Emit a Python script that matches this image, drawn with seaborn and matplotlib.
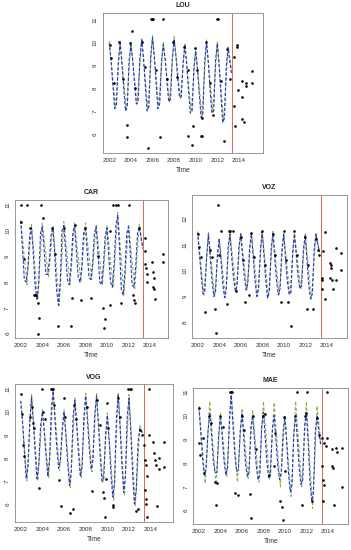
import numpy as np
import pandas as pd
import matplotlib
matplotlib.use("Agg")
import matplotlib.pyplot as plt
import seaborn as sns

sns.set_style("white")
plt.rcParams["font.family"] = ["Liberation Sans", "DejaVu Sans"]

# bimonthly time grid of the fitted curves (Jan, Mar, May, Jul, Sep, Nov)
fit_years = list(range(2002, 2014))
fit_months = [0, 2, 4, 6, 8, 10]
fit_time = [y + m / 12 for y in fit_years for m in fit_months][:69]

# peak / trough times of the second (green) model
green_time = [2002.0, 2002.58, 2003.0, 2003.58, 2004.0, 2004.58, 2005.0, 2005.58,
              2006.0, 2006.58, 2007.0, 2007.58, 2008.0, 2008.58, 2009.0, 2009.58,
              2010.0, 2010.58, 2011.0, 2011.58, 2012.0, 2012.58, 2013.0, 2013.35]

# ---------------- LOU ----------------
lou_fit = [9.95, 9.2, 8.1, 7.1, 7.3, 9.1,
           9.95, 9.1, 8.0, 7.0, 7.2, 9.2,
           9.9, 9.2, 8.2, 7.3, 7.4, 9.3,
           10.1, 9.3, 8.1, 7.0, 7.2, 9.4,
           10.2, 9.4, 8.2, 7.1, 7.3, 9.2,
           9.9, 9.3, 8.3, 7.4, 7.5, 9.3,
           10.1, 9.4, 8.4, 7.6, 7.6, 9.1,
           9.9, 9.0, 7.9, 6.9, 7.0, 8.9,
           9.6, 8.8, 7.7, 6.7, 6.9, 9.2,
           10.0, 9.1, 7.9, 6.9, 7.0, 9.2,
           9.95, 9.0, 7.7, 6.5, 6.7, 9.0,
           9.75, 9.1, 8.6]
lou_green = [10.05, 7.15, 10.1, 7.05, 10.0, 7.3, 10.2, 7.05, 10.3, 7.2, 10.0, 7.4,
             10.25, 7.55, 9.95, 6.95, 9.75, 6.75, 10.1, 6.95, 10.05, 6.55, 9.8, 8.7]
lou_obs_t = [2002.05, 2002.2, 2002.4, 2002.9, 2003.3, 2003.9, 2004.1, 2004.4, 2005.0, 2005.3,
             2005.85, 2005.95, 2006.05, 2006.3, 2007.0, 2007.3, 2007.9, 2008.3, 2008.95, 2009.3,
             2009.9, 2010.1, 2010.95, 2011.3, 2011.95, 2012.05, 2012.3, 2012.9, 2013.2,
             2003.6, 2003.6, 2005.6, 2006.7, 2009.3, 2009.7, 2009.75, 2010.45, 2010.55, 2012.6,
             2010.6, 2011.6,
             2013.5, 2013.55, 2013.65, 2013.8, 2013.85, 2013.94, 2014.3, 2014.33, 2014.33,
             2014.45, 2014.65, 2014.7, 2015.18, 2015.2]
lou_obs_y = [9.9, 9.3, 8.2, 10.0, 8.4, 9.95, 10.5, 8.0, 10.0, 8.9,
             11, 11, 11, 8.8, 11, 8.4, 10.0, 8.5, 9.8, 8.8,
             9.75, 8.8, 10.0, 8.2, 11, 11, 8.3, 9.7, 8.4,
             6.4, 5.85, 5.4, 5.85, 5.9, 5.5, 6.35, 5.9, 5.9, 5.7,
             6.7, 6.8,
             9.37, 7.2, 6.35, 9.8, 9.9, 7.9, 8.3, 7.6, 6.65,
             6.5, 8.2, 8.1, 8.76, 8.2]

# ---------------- CAR ----------------
car_fit = [10.35, 9.3, 8.1, 8.0, 8.6, 9.8,
           10.1, 9.1, 7.9, 7.3, 7.9, 9.9,
           10.15, 9.3, 8.3, 8.3, 8.9, 9.9,
           10.1, 9.0, 7.7, 7.1, 8.0, 10.0,
           10.2, 9.2, 8.1, 7.9, 8.6, 9.9,
           10.2, 9.2, 8.2, 8.0, 8.6, 9.9,
           10.15, 9.2, 8.2, 8.1, 8.7, 9.9,
           10.15, 9.1, 8.0, 7.9, 8.6, 9.8,
           10.1, 9.0, 8.0, 7.8, 8.7, 10.2,
           10.6, 9.3, 7.7, 7.5, 8.4, 9.9,
           10.15, 9.1, 7.9, 7.8, 8.6, 9.9,
           10.15, 9.7, 9.3]
car_green = [10.4, 7.9, 10.25, 7.3, 10.3, 8.2, 10.2, 7.1, 10.35, 7.9, 10.3, 8.0,
             10.3, 8.1, 10.25, 7.9, 10.2, 7.8, 10.7, 7.5, 10.25, 7.75, 10.25, 9.3]
car_obs_t = [2002.0, 2002.55, 2003.85, 2004.05, 2010.55, 2010.85, 2011.0, 2012.05,
             2002.05, 2002.3, 2002.9, 2003.2, 2003.3, 2003.4, 2003.6, 2003.65, 2003.6,
             2004.9, 2005.2, 2005.5, 2006.0, 2006.65, 2006.75, 2007.0, 2007.6, 2008.0,
             2008.55, 2009.2, 2009.6, 2009.75, 2009.85, 2010.3, 2010.3, 2011.3, 2012.4,
             2012.5, 2012.6, 2012.95,
             2013.5, 2013.55, 2013.5, 2013.6, 2013.7, 2013.7, 2014.17, 2014.3, 2014.35,
             2014.3, 2014.4, 2014.5, 2015.2, 2015.2]
car_obs_y = [11, 11, 11, 10.5, 11, 11, 11, 11,
             10.35, 8.9, 10.1, 7.5, 7.5, 7.5, 7.2, 6.6, 6.0,
             10.1, 9.1, 6.3, 10.1, 6.3, 7.4, 10.2, 7.3, 10.1,
             7.4, 9.0, 7.0, 6.2, 6.55, 10.0, 7.1, 7.2, 7.5,
             7.3, 7.2, 10.1,
             9.7, 9.2, 8.7, 8.55, 8.3, 8.0, 8.77, 8.4, 8.15,
             7.8, 7.75, 7.35, 9.1, 8.8]

# ---------------- VOZ ----------------
voz_fit = [11.45, 10.6, 9.8, 9.1, 9.2, 10.5,
           11.4, 10.5, 9.6, 9.0, 9.2, 10.6,
           11.2, 10.4, 9.5, 8.95, 9.3, 10.9,
           11.4, 10.5, 9.7, 9.2, 9.4, 10.9,
           11.4, 10.6, 9.8, 9.25, 9.5, 10.9,
           11.4, 10.5, 9.6, 9.0, 9.3, 10.8,
           11.5, 10.6, 9.6, 8.95, 9.2, 10.8,
           11.45, 10.5, 9.6, 9.05, 9.3, 10.8,
           11.4, 10.5, 9.6, 9.1, 9.1, 10.7,
           11.4, 10.6, 9.8, 9.3, 9.4, 10.8,
           11.35, 10.4, 9.4, 8.9, 9.1, 10.8,
           11.4, 11.0, 10.7]
voz_green = [11.5, 9.05, 11.45, 9.0, 11.25, 8.95, 11.5, 9.2, 11.45, 9.25, 11.45, 9.0,
             11.5, 8.95, 11.5, 9.05, 11.45, 9.05, 11.45, 9.3, 11.4, 8.9, 11.4, 10.7]
voz_obs_t = [2003.9, 2002.7, 2003.6, 2003.7, 2004.7, 2004.2, 2004.9, 2005.05, 2005.3,
             2006.4, 2006.8, 2007.0, 2008.0, 2009.75, 2010.4, 2010.7, 2010.0, 2011.0,
             2012.15, 2012.7,
             2002.0, 2002.15, 2002.3, 2003.1, 2003.3, 2004.0, 2005.6, 2006.0, 2006.2,
             2007.2, 2008.3, 2009.0, 2009.2, 2010.2, 2011.2, 2012.0, 2012.3, 2013.0,
             2013.2, 2013.3,
             2013.55, 2013.6, 2013.58, 2013.7, 2013.85, 2013.8, 2014.35, 2014.4, 2014.35,
             2014.38, 2014.46, 2014.6, 2014.9, 2014.87, 2015.33, 2015.33]
voz_obs_y = [12.5, 8.4, 8.5, 7.6, 8.7, 11.5, 11.5, 11.5, 11.5,
             8.8, 9.05, 11.45, 11.5, 8.8, 8.8, 7.85, 11.5, 11.5,
             8.5, 8.5,
             11.4, 10.9, 10.5, 10.8, 10.5, 10.6, 9.2, 11.3, 10.4,
             10.5, 10.2, 11.4, 10.6, 10.4, 10.6, 11.3, 10.2, 11.2,
             10.8, 10.6,
             9.7, 9.64, 9.3, 10.75, 11.49, 8.9, 10.3, 10.2, 9.7,
             10.1, 9.64, 9.3, 9.64, 10.85, 10.66, 10.0]

# ---------------- VOG ----------------
vog_fit = [10.45, 9.6, 8.3, 7.1, 7.6, 9.6,
           10.65, 9.5, 8.2, 7.1, 7.7, 9.4,
           10.0, 9.2, 8.1, 7.2, 8.0, 10.2,
           10.9, 9.6, 8.4, 7.55, 7.9, 9.3,
           10.0, 9.0, 7.8, 6.8, 7.4, 9.8,
           10.5, 9.4, 8.2, 7.2, 7.6, 9.8,
           10.7, 9.6, 8.4, 7.5, 7.9, 9.9,
           10.7, 9.5, 8.1, 7.0, 7.1, 9.0,
           9.85, 8.7, 7.3, 6.3, 6.9, 9.7,
           10.75, 9.4, 7.8, 6.5, 7.2, 9.8,
           10.6, 9.1, 7.3, 6.0, 6.6, 8.7,
           9.3, 9.1, 9.0]
vog_green = [10.5, 7.0, 10.75, 7.0, 10.1, 7.1, 10.95, 7.45, 10.1, 6.7, 10.6, 7.1,
             10.8, 7.4, 10.8, 6.9, 9.95, 6.15, 10.85, 6.35, 10.75, 5.9, 9.4, 9.0]
vog_obs_t = [2002.0, 2003.95, 2004.8, 2004.9, 2005.0, 2006.0, 2011.95, 2012.05, 2012.15,
             2010.0, 2003.7, 2005.7, 2006.55, 2006.8, 2008.55, 2009.55, 2009.7, 2009.8,
             2010.5, 2010.55, 2012.6, 2012.8, 2009.9, 2005.5, 2009.3, 2002.3, 2002.25,
             2002.15, 2002.9, 2003.05, 2003.1, 2003.2, 2004.05, 2004.2, 2005.1, 2006.1,
             2006.95, 2007.1, 2008.1, 2009.0, 2010.1, 2011.0, 2011.2, 2013.0, 2013.2,
             2013.38, 2013.48, 2013.48, 2013.55, 2013.57, 2013.63, 2013.57, 2013.63,
             2013.85, 2013.88, 2014.25, 2014.3, 2014.4, 2014.5, 2014.55, 2014.8, 2014.8,
             2015.25, 2015.25]
vog_obs_y = [10.8, 11, 11, 11, 11, 10.6, 11, 11, 11,
             10.4, 6.7, 5.9, 5.6, 5.8, 6.55, 6.5, 6.25, 5.45,
             5.95, 5.85, 5.7, 5.8, 7.1, 7.05, 9.45, 8.1, 8.55,
             9.9, 9.8, 10.2, 9.5, 9.3, 10.0, 9.7, 10.3, 9.8,
             10.3, 9.7, 10.2, 10.5, 9.3, 10.6, 9.8, 9.2, 9.0,
             8.55, 7.9, 6.6, 6.2, 6.0, 5.45, 7.7, 7.2,
             11, 9.0, 8.7, 8.2, 7.9, 7.7, 5.9, 8.0, 7.5,
             8.7, 7.6]

# ---------------- MAE ----------------
mae_fit = [10.3, 9.3, 8.2, 7.5, 7.8, 9.3,
           10.1, 9.2, 8.1, 7.6, 7.6, 9.2,
           10.0, 9.1, 8.1, 7.5, 7.8, 9.8,
           10.85, 9.6, 8.4, 7.65, 7.7, 9.3,
           10.1, 9.1, 8.0, 7.45, 7.6, 9.5,
           10.0, 9.0, 7.9, 7.3, 7.5, 9.5,
           10.15, 9.1, 8.0, 7.35, 7.6, 9.4,
           10.0, 9.0, 7.9, 7.3, 7.6, 9.3,
           9.95, 8.9, 7.6, 6.8, 7.1, 9.3,
           10.0, 9.0, 7.8, 7.1, 7.3, 9.5,
           10.15, 8.9, 7.3, 6.4, 6.8, 9.3,
           10.0, 9.3, 8.8]
mae_green = [10.4, 7.15, 10.6, 7.1, 10.1, 7.4, 11.0, 7.2, 10.3, 7.35, 10.2, 7.2,
             10.6, 7.3, 10.55, 7.0, 10.0, 6.6, 10.6, 7.0, 10.6, 6.1, 10.4, 8.8]
mae_obs_t = [2002.0, 2002.0, 2002.1, 2002.35, 2003.5, 2003.65, 2003.6, 2004.85, 2004.95,
             2005.05, 2005.35, 2005.6, 2006.75, 2006.85, 2008.15, 2009.55, 2009.7, 2009.85,
             2009.95, 2010.0, 2011.15, 2011.57, 2012.1, 2012.5, 2009.1, 2009.0,
             2002.5, 2002.95, 2003.1, 2003.95, 2004.2, 2006.0, 2006.2, 2007.0, 2007.3,
             2008.0, 2008.5, 2010.9, 2011.9, 2012.0, 2013.0, 2013.2,
             2013.43, 2013.43, 2013.52, 2013.58, 2013.65, 2013.68, 2013.8, 2013.9, 2013.9,
             2014.35, 2014.42, 2014.5, 2014.6, 2014.8, 2014.85, 2015.3, 2015.35]
mae_obs_y = [10.3, 8.85, 8.35, 9.05, 7.2, 7.15, 6.25, 11, 11,
             11, 6.75, 6.65, 6.7, 5.7, 10.05, 6.4, 6.15, 5.6,
             9.95, 7.65, 11, 6.25, 11, 6.4, 9.25, 7.9,
             7.6, 10.0, 9.7, 10.0, 9.5, 10.0, 9.4, 10.0, 8.6,
             10.0, 7.5, 10.0, 10.0, 10.1, 9.9, 9.2,
             9.05, 7.9, 7.3, 6.4, 8.85, 7.1, 8.7, 11, 9.07,
             8.6, 7.9, 7.8, 6.25, 8.65, 8.45, 8.62, 7.0]

# panel layout in pixels: name, left, right, top, bottom, xlim, ylim, yticks
FIG_W, FIG_H = 351, 550
panels = [
    ("LOU", lou_fit, lou_green, lou_obs_t, lou_obs_y, (102.7, 262.7, 13, 153),
     (2001.39, 2016.2), (5.16, 11.28), [6, 7, 8, 9, 10, 11], 2013.33),
    ("CAR", car_fit, car_green, car_obs_t, car_obs_y, (15, 168, 200, 338),
     (2001.47, 2015.66), (5.83, 11.19), [6, 7, 8, 9, 10, 11], 2013.33),
    ("VOZ", voz_fit, voz_green, voz_obs_t, voz_obs_y, (192.3, 346.7, 195, 338),
     (2001.5, 2015.86), (7.4, 12.9), [8, 9, 10, 11, 12], 2013.44),
    ("VOG", vog_fit, vog_green, vog_obs_t, vog_obs_y, (15, 173, 384.3, 521.7),
     (2001.47, 2016.06), (5.23, 11.2), [6, 7, 8, 9, 10, 11], 2013.4),
    ("MAE", mae_fit, mae_green, mae_obs_t, mae_obs_y, (193.3, 348.3, 387.7, 524.3),
     (2001.47, 2015.91), (5.43, 11.17), [6, 7, 8, 9, 10, 11], 2013.42),
]

fig = plt.figure(figsize=(FIG_W / 100, FIG_H / 100), dpi=100)

for name, fit, green, obs_t, obs_y, box, xlim, ylim, yticks, cut in panels:
    l, r, t, b = box
    ax = fig.add_axes([l / FIG_W, 1 - b / FIG_H, (r - l) / FIG_W, (b - t) / FIG_H])

    fit_df = pd.DataFrame({"time": fit_time[:len(fit)], "value": fit})
    green_df = pd.DataFrame({"time": green_time, "value": green})
    obs_df = pd.DataFrame({"time": obs_t, "value": obs_y})

    sns.lineplot(data=green_df, x="time", y="value", ax=ax, color="#86b043",
                 linestyle=(0, (3, 2)), linewidth=0.75)
    sns.lineplot(data=fit_df, x="time", y="value", ax=ax, color="#2a35c8",
                 linestyle=(1, (3, 1.5)), linewidth=0.8)
    sns.scatterplot(data=obs_df, x="time", y="value", ax=ax, color="black",
                    s=3.5, linewidth=0, zorder=5)
    ax.axvline(cut, color="#d9685e", linewidth=0.7)

    ax.set_xlim(*xlim)
    ax.set_ylim(*ylim)
    ax.set_xticks([2002, 2004, 2006, 2008, 2010, 2012, 2014])
    ax.set_yticks(yticks)
    ax.set_yticklabels([str(v) for v in yticks], rotation=90, va="center")
    ax.tick_params(axis="both", labelsize=4.5, length=2, width=0.5,
                   color="#777777", pad=1.5, labelcolor="#333333", direction="out")
    ax.set_title(name, fontsize=5, fontweight="bold", pad=4)
    ax.set_xlabel("Time", fontsize=4.8, labelpad=3, color="#333333")
    ax.set_ylabel("")
    for spine in ax.spines.values():
        spine.set_color("#888888")
        spine.set_linewidth(0.6)

fig.savefig("out.png", dpi=100)
